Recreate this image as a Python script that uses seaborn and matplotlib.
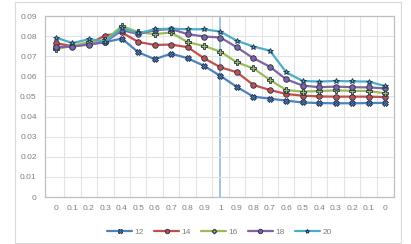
import matplotlib
matplotlib.use("Agg")
import matplotlib.pyplot as plt
import matplotlib.patches as mpatches
import numpy as np
import pandas as pd
import seaborn as sns

# category labels along x: 0 .. 1 .. 0
x_labels = ["0", "0.1", "0.2", "0.3", "0.4", "0.5", "0.6", "0.7", "0.8", "0.9", "1",
            "0.9", "0.8", "0.7", "0.6", "0.5", "0.4", "0.3", "0.2", "0.1", "0"]

s12 = [0.0745, 0.0750, 0.0760, 0.0770, 0.0788, 0.0720, 0.0685, 0.0713, 0.0690, 0.0652, 0.0602,
       0.0547, 0.0499, 0.0489, 0.0479, 0.0470, 0.0467, 0.0466, 0.0466, 0.0467, 0.0468]
s14 = [0.0765, 0.0750, 0.0762, 0.0803, 0.0818, 0.0771, 0.0756, 0.0758, 0.0745, 0.0690, 0.0645,
       0.0620, 0.0557, 0.0532, 0.0512, 0.0504, 0.0500, 0.0499, 0.0499, 0.0499, 0.0497]
s16 = [0.0735, 0.0752, 0.0770, 0.0780, 0.0850, 0.0820, 0.0810, 0.0818, 0.0770, 0.0751, 0.0723,
       0.0669, 0.0640, 0.0582, 0.0532, 0.0524, 0.0527, 0.0530, 0.0528, 0.0527, 0.0516]
s18 = [0.0745, 0.0748, 0.0758, 0.0770, 0.0830, 0.0810, 0.0830, 0.0835, 0.0810, 0.0798, 0.0793,
       0.0744, 0.0690, 0.0648, 0.0585, 0.0554, 0.0546, 0.0549, 0.0546, 0.0545, 0.0540]
s20 = [0.0793, 0.0765, 0.0785, 0.0773, 0.0839, 0.0814, 0.0834, 0.0837, 0.0834, 0.0834, 0.0822,
       0.0777, 0.0748, 0.0728, 0.0620, 0.0577, 0.0574, 0.0577, 0.0575, 0.0574, 0.0552]

series_names = ["12", "14", "16", "18", "20"]
series_vals = [s12, s14, s16, s18, s20]
colors = ["#4F81BD", "#C0504D", "#9BBB59", "#8064A2", "#4BACC6"]
markers = ["X", "o", "P", "o", "*"]

sns.set_theme(style="white")
plt.rcParams["font.family"] = ["Calibri", "Liberation Sans", "DejaVu Sans"]

fig = plt.figure(figsize=(4.11, 2.44), dpi=100)
ax = fig.add_axes([45 / 411, 47 / 244, 349 / 411, 181 / 244])

# outer chart border
fig.patches.append(mpatches.Rectangle((15 / 411, 1 / 244), 386 / 411, 241 / 244,
                                      transform=fig.transFigure, fill=False,
                                      edgecolor="#D9D9D9", linewidth=0.8))

idx = np.arange(len(x_labels))
for name, vals, c, m in zip(series_names, series_vals, colors, markers):
    df = pd.DataFrame({"pos": idx, "val": vals})
    sns.lineplot(data=df, x="pos", y="val", ax=ax, color=c, marker=m,
                 markersize=4, markeredgecolor="#1F2F4A", markeredgewidth=0.6,
                 linewidth=1.6, label=name)

# vertical marker at the "1" category
ax.axvline(10, color="#9DC3E6", linewidth=1.4, zorder=0.5)

ax.set_xlim(-0.67, 20.55)
ax.set_ylim(0, 0.09)
ax.set_yticks(np.arange(0, 0.0901, 0.01))
ax.set_yticklabels(["0"] + [f"{v:.2f}" for v in np.arange(0.01, 0.0901, 0.01)])
ax.set_xticks(idx)
ax.set_xticklabels(x_labels)
ax.set_xticks(idx[:-1] + 0.5, minor=True)
ax.grid(True, which="major", axis="y", color="#E3E3E3", linewidth=0.8)
ax.grid(True, which="minor", axis="x", color="#E3E3E3", linewidth=0.8)
ax.grid(False, which="major", axis="x")
ax.tick_params(axis="both", which="both", length=0, labelsize=6, labelcolor="#7F7F7F", pad=6)
ax.set_xlabel("")
ax.set_ylabel("")
for sp in ax.spines.values():
    sp.set_color("#BFBFBF")
    sp.set_linewidth(0.9)
ax.set_axisbelow(True)

leg = ax.legend(loc="center", bbox_to_anchor=(0.5, -0.195), ncol=5, frameon=False,
                fontsize=6, handlelength=3.0, handletextpad=0.3, columnspacing=1.2,
                markerscale=0.8)
for t in leg.get_texts():
    t.set_color("#7F7F7F")

fig.savefig("out.png", dpi=100)
